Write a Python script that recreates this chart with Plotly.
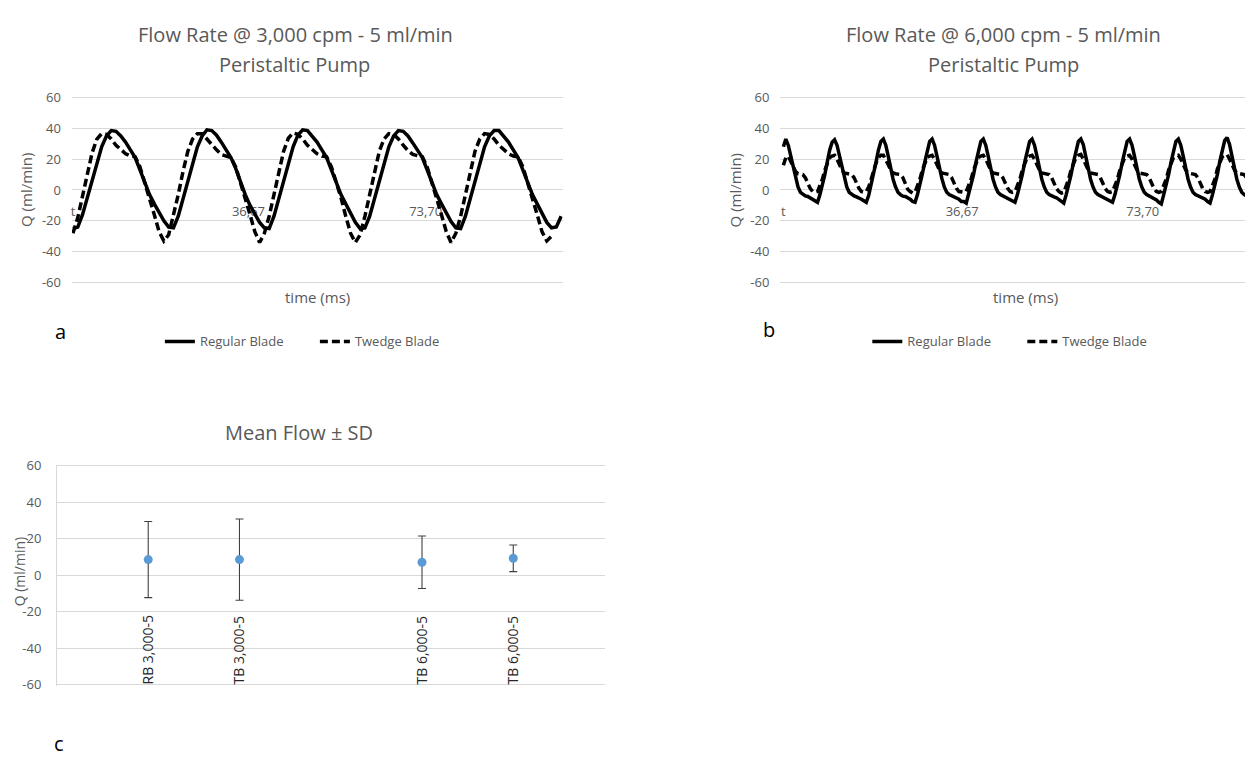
import numpy as np
import plotly.graph_objects as go

W, H = 1253, 759

# ---------------- data ----------------
# Panel a: 3,000 cpm, sampled every 1 ms
a_step_ms = 1.0
a_regular = [
    -25, -24, -16, -5, 7, 19, 28, 35, 38.5, 38, 35, 31, 26, 21, 13, 5, -3, -9, -15, -20,
    -24, -24.5, -17, -6, 6, 18, 28, 35, 39, 38.5, 35.5, 31, 26, 21, 14, 5, -3, -10, -16, -21,
    -24.5, -25, -17, -6, 6, 18, 28, 35.5, 39, 38.5, 35, 31, 26, 21, 13, 5, -3, -9, -15, -21,
    -25, -24.5, -17, -6, 6, 18, 28, 35, 38.5, 38, 35, 30.5, 26, 21, 13, 5, -3, -9, -15, -20.5,
    -24.5, -25, -17, -6, 6, 18, 28, 35, 38.5, 38.5, 35, 31, 26, 21, 13, 5, -3, -9, -15, -21,
    -24.5, -24, -17,
]
a_twedge = [
    -28, -18, -4, 11, 24, 33, 36.5, 36, 33, 29, 26, 23.5, 22, 21.5, 15, 5, -5, -16, -27, -33,
    -29, -17, -3, 12, 25, 33, 36.5, 36.5, 33, 29, 26, 23, 22, 21, 15, 5, -5, -16, -27, -34,
    -28, -17, -3, 12, 25, 33.5, 37, 36, 33, 29, 26, 23.5, 22, 21.5, 15, 5, -5, -17, -28, -34,
    -29, -17, -3, 12, 25, 33, 36.5, 36, 33, 29, 25.5, 23, 22, 21.5, 15, 5, -5, -16, -27, -34,
    -28, -17, -3, 12, 25, 33, 36.5, 36, 33, 29, 26, 23.5, 22, 21.5, 15, 5, -5, -16, -27, -33,
    -30,
]

# Panel b: 6,000 cpm, sampled every 0.5 ms
b_step_ms = 0.5
b_regular = [
    28, 33, 29, 22, 14, 7, 2, -1.5, -3, -3.8, -4.2, -5, -5.8, -7,
    -8, -3, 3, 10, 18, 26, 31, 32.5, 29, 22, 14, 7, 2, -1.5, -3, -3.8, -4.5, -5, -6, -7,
    -8, -3.5, 3, 10, 18, 26, 31.5, 33, 29, 22, 14, 7, 2, -1.5, -3, -4, -4.2, -5, -6, -7.5,
    -8, -3, 3, 10.5, 18, 26, 31.5, 33, 29, 22, 14, 7.5, 2, -1.5, -3, -3.8, -4.2, -5, -6, -7.5,
    -7.5, -8.5, -3, 3, 10, 18, 26, 31.5, 33, 29, 22, 14, 7, 2, -1.5, -3, -3.8, -4.2, -5, -5.8, -7,
    -8, -3, 3, 10, 18, 26, 31.5, 33, 29, 22, 14, 7, 2, -1.5, -3, -4, -4.5, -5, -6, -7.5,
    -8.5, -3, 3, 10, 18, 26, 31.5, 33, 29.5, 22, 14, 7, 2, -1.5, -3, -3.8, -4.2, -5, -6, -7,
    -8, -3, 3, 10, 18, 26, 31.5, 33, 29, 22, 14, 7, 2, -1.5, -3, -3.8, -4.5, -5.5, -6.5, -8,
    -9, -3, 3, 10, 18, 26, 31.5, 33, 29, 22, 14, 7, 2, -1.5, -3, -3.8, -4.2, -5, -6, -7.5,
    -8.5, -3, 3, 10, 18.5, 26.5, 32, 34, 29.5, 22, 14, 7, 2, -1.5, -3, -3.8, -4.2, -5, -6, -7.5,
    -8.5, -3, 3,
]
b_twedge = [
    16, 21, 22, 19, 15, 12, 10.5, 10.2, 10, 8, 4, 1, -1, -1.5,
    -1, 2.5, 7, 13, 17.5, 21, 22, 22.5, 20, 16.5, 13, 11, 10.5, 10.2, 10, 8, 4, 1, -1, -1.5,
    -1, 2, 7, 13, 17.5, 21, 22.5, 22.5, 20, 16.5, 13, 11, 10.5, 10, 10, 8, 4, 0.5, -1, -2,
    -1.5, 2.5, 7, 13, 17.5, 21, 22, 22.5, 20, 16.5, 13, 11, 10.5, 10.2, 10, 8, 4, 1, -1, -1.5,
    -1.5, -1, 2.5, 7, 13, 17.5, 21, 22, 22.5, 20, 16.5, 13, 11, 10.5, 10.2, 10, 8, 4, 1, -1, -1.5,
    -1, 2.5, 7, 13, 17.5, 21, 22, 22.5, 20, 16.5, 13, 11, 10.5, 10.2, 10, 8, 4, 1, -1, -2,
    -1.5, 2.5, 7, 13, 17.5, 21, 22.5, 23, 20, 16.5, 13, 11, 10.5, 10.2, 10, 8, 4, 1, -1, -1.5,
    -1, 2.5, 7, 13, 17.5, 21, 22, 22.5, 20, 16.5, 13, 11, 10.5, 10.2, 10, 8, 4, 1, -1, -1.5,
    -1, 2.5, 7, 13, 17.5, 21, 22, 22.5, 20, 16.5, 13, 11, 10.5, 10.2, 10, 8, 4, 1, -1, -1.5,
    -1, 2.5, 7, 13.5, 18, 21.5, 22.5, 23, 20, 16.5, 13, 11, 10.5, 10.2, 10, 8, 4, 1, -1, -1.5,
    -1, 2.5, 7,
]

time_tick_vals = [0, 36.67, 73.70]
time_tick_text = ["t", "36,67", "73,70"]

y_tick_vals = [-60, -40, -20, 0, 20, 40, 60]
y_tick_text = ["-60", "-40", "-20", "0", "20", "40", "60"]

# Panel c: mean flow +/- SD
c_categories = ["RB 3,000-5", "TB 3,000-5", "", "TB 6,000-5", "TB 6,000-5"]
c_mean = [8.6, 8.6, None, 7.1, 9.3]
c_sd = [20.9, 22.3, None, 14.4, 7.3]

series_names = ["Regular Blade", "Twedge Blade"]

# ---------------- helpers ----------------
FONT = "Open Sans"
GRAY = "#595959"
GRID = "#D9D9D9"


def px(x):
    return x / W


def py(y):
    return 1 - y / H


t_a_reg = np.arange(len(a_regular)) * a_step_ms
t_a_tw = np.arange(len(a_twedge)) * a_step_ms
t_b_reg = np.arange(len(b_regular)) * b_step_ms
t_b_tw = np.arange(len(b_twedge)) * b_step_ms

fig = go.Figure()

LW = 3.5
DASH = "8px,4px"

# panel a
fig.add_trace(go.Scatter(x=t_a_reg, y=a_regular, mode="lines", name=series_names[0],
                         line=dict(color="black", width=LW), xaxis="x", yaxis="y",
                         legend="legend"))
fig.add_trace(go.Scatter(x=t_a_tw, y=a_twedge, mode="lines", name=series_names[1],
                         line=dict(color="black", width=LW, dash=DASH), xaxis="x", yaxis="y",
                         legend="legend"))
# panel b
fig.add_trace(go.Scatter(x=t_b_reg, y=b_regular, mode="lines", name=series_names[0],
                         line=dict(color="black", width=LW), xaxis="x2", yaxis="y2",
                         legend="legend2"))
fig.add_trace(go.Scatter(x=t_b_tw, y=b_twedge, mode="lines", name=series_names[1],
                         line=dict(color="black", width=LW, dash=DASH), xaxis="x2", yaxis="y2",
                         legend="legend2"))
# panel c
c_x = list(range(1, len(c_categories) + 1))
fig.add_trace(go.Scatter(x=c_x, y=c_mean, mode="markers", showlegend=False,
                         marker=dict(color="#5B9BD5", size=9),
                         error_y=dict(type="data", array=c_sd, symmetric=True,
                                      color="#404040", thickness=1.1, width=4),
                         xaxis="x3", yaxis="y3"))

# panel geometry (pixels)
A_X = (63, 554)
B_X = (772, 1253)
AB_Y = (83, 272)      # pixel rows of the +60 / -60 gridlines
C_X = (48, 596)
C_Y = (459, 682)

a_t0, a_scale = 64, 4.79
b_t0, b_scale = 775, 4.88

zero_ab = (AB_Y[0] + AB_Y[1]) / 2

# pad the value range a hair so the +/-60 gridlines are drawn
ab_pad_px = 1.2
ab_unit = (AB_Y[1] - AB_Y[0]) / 120.0
ab_pad = ab_pad_px / ab_unit
c_unit = (C_Y[1] - C_Y[0]) / 120.0
c_pad = ab_pad_px / c_unit

tickfont = dict(family=FONT, size=13, color=GRAY)

common_y = dict(tickvals=y_tick_vals, ticktext=y_tick_text,
                showgrid=True, gridcolor=GRID, gridwidth=1, zeroline=False,
                ticks="", tickfont=tickfont, fixedrange=True)

common_time_x = dict(tickvals=time_tick_vals, ticktext=time_tick_text, showgrid=False,
                     zeroline=False, showline=False, ticks="", tickfont=tickfont,
                     anchor="free", position=py(zero_ab), layer="below traces",
                     ticklabelstandoff=12)

fig.update_layout(
    width=W, height=H, autosize=False,
    margin=dict(l=0, r=0, t=0, b=0),
    paper_bgcolor="white", plot_bgcolor="white",
    font=dict(family=FONT, color=GRAY),
    xaxis=dict(domain=[px(A_X[0]), px(A_X[1])],
               range=[(A_X[0] - a_t0) / a_scale, (A_X[1] - a_t0) / a_scale],
               **common_time_x),
    yaxis=dict(domain=[py(AB_Y[1] + ab_pad_px), py(AB_Y[0] - ab_pad_px)],
               range=[-60 - ab_pad, 60 + ab_pad], anchor="x", ticklabelstandoff=10,
               **common_y),
    xaxis2=dict(domain=[px(B_X[0]), px(B_X[1])],
                range=[(B_X[0] - b_t0) / b_scale, (B_X[1] - b_t0) / b_scale],
                **common_time_x),
    yaxis2=dict(domain=[py(AB_Y[1] + ab_pad_px), py(AB_Y[0] - ab_pad_px)],
                range=[-60 - ab_pad, 60 + ab_pad], anchor="x2", ticklabelstandoff=10,
                **common_y),
    xaxis3=dict(domain=[px(C_X[0]), px(C_X[1])], range=[0, 6],
                anchor="free", side="top", position=py(C_Y[1]),
                tickvals=c_x, ticktext=c_categories, tickangle=-90,
                showgrid=False, zeroline=False, showline=False, ticks="",
                ticklabelstandoff=0,
                tickfont=dict(family=FONT, size=14, color="#262626")),
    yaxis3=dict(domain=[py(C_Y[1] + ab_pad_px), py(C_Y[0] - ab_pad_px)],
                range=[-60 - c_pad, 60 + c_pad], anchor="x3", showline=True,
                linecolor=GRID, linewidth=1, ticklabelstandoff=12, **common_y),
    legend=dict(orientation="h", x=px(151), xanchor="left", y=py(332), yanchor="middle",
                font=dict(family=FONT, size=13, color=GRAY), bgcolor="rgba(0,0,0,0)",
                entrywidth=110, entrywidthmode="pixels", itemclick=False),
    legend2=dict(orientation="h", x=px(859), xanchor="left", y=py(332), yanchor="middle",
                 font=dict(family=FONT, size=13, color=GRAY), bgcolor="rgba(0,0,0,0)",
                 entrywidth=110, entrywidthmode="pixels", itemclick=False),
)

ann = []


def text_ann(txt, x, y, size, color=GRAY, angle=0, yanchor="middle"):
    ann.append(dict(text=txt, x=px(x), y=py(y), xref="paper", yref="paper",
                    xanchor="center", yanchor=yanchor, showarrow=False, textangle=angle,
                    font=dict(family=FONT, size=size, color=color)))


# titles
text_ann("Flow Rate @ 3,000 cpm - 5 ml/min", 287, 19, 20)
text_ann("Peristaltic Pump", 286, 49, 20)
text_ann("Flow Rate @ 6,000 cpm - 5 ml/min", 995, 19, 20)
text_ann("Peristaltic Pump", 995, 49, 20)
text_ann("Mean Flow ± SD", 290, 425, 20)
# axis titles
text_ann("time (ms)", (A_X[0] + A_X[1]) / 2, 287, 15)
text_ann("time (ms)", 1017.5, 287, 15)
text_ann("Q (ml/min)", 17, zero_ab, 15, angle=-90)
text_ann("Q (ml/min)", 727, zero_ab, 15, angle=-90)
text_ann("Q (ml/min)", 10, (C_Y[0] + C_Y[1]) / 2 - 4, 14, angle=-90)
# panel letters
text_ann("a", 52, 322, 20, color="black")
text_ann("b", 761, 320, 20, color="black")
text_ann("c", 50, 758, 20, color="black", yanchor="bottom")

fig.update_layout(annotations=ann)

fig.write_html("out.html")
